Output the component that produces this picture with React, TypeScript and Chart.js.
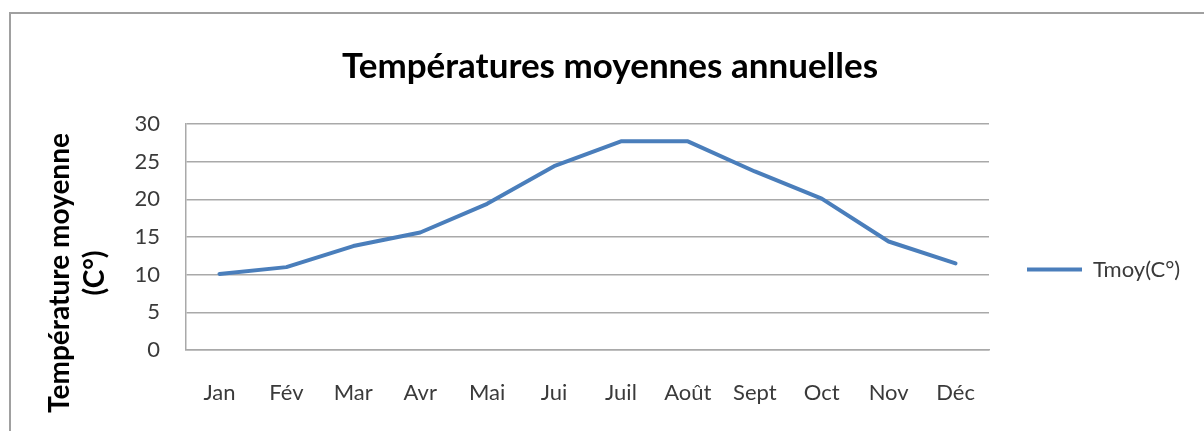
import { useEffect, useRef } from "react";
import { Chart, registerables } from "chart.js";

Chart.register(...registerables);

const months = ["Jan", "Fév", "Mar", "Avr", "Mai", "Jui", "Juil", "Août", "Sept", "Oct", "Nov", "Déc"];
const tmoy = [10.1, 11.0, 13.8, 15.6, 19.4, 24.4, 27.7, 27.7, 23.7, 20.1, 14.4, 11.5];
const yTicks = [0, 5, 10, 15, 20, 25, 30];
const seriesLabel = "Tmoy(C°)";
const chartTitle = "Températures moyennes annuelles";
const yTitleLines = ["Température moyenne", "(C°)"];

const W = 1204;
const H = 431;
const PLOT_LEFT = 186;
const PLOT_RIGHT = 989;
const PLOT_BOTTOM = 350;
const GRID = "#a9a9a9";
const LINE = "#4a7ebb";
const TEXT = "#3a3a3a";

export default function App() {
  const ref = useRef<HTMLCanvasElement>(null);

  useEffect(() => {
    const canvas = ref.current!;
    const mctx = canvas.getContext("2d")!;
    const legendFontSize = 22;
    mctx.font = `${legendFontSize}px Lato`;
    const textW = mctx.measureText(seriesLabel).width;
    const legendPad = 38;
    const legendBox = 55;
    const legendW = legendPad + legendBox + legendFontSize / 2 + textW + 10;
    const padRight = Math.max(0, W - PLOT_RIGHT - legendW);
    const padLeft = padRight + 16;

    const framePlugin = {
      id: "frame",
      beforeDraw(chart: any) {
        const c = chart.ctx;
        c.save();
        c.strokeStyle = "#a0a0a0";
        c.lineWidth = 2;
        c.beginPath();
        c.moveTo(10, H);
        c.lineTo(10, 13);
        c.lineTo(W, 13);
        c.stroke();
        c.restore();
      },
    };

    const legendShiftPlugin = {
      id: "legendShift",
      afterLayout(chart: any) {
        const lg = chart.legend;
        if (lg) {
          lg.top += 24;
          lg.bottom += 24;
        }
      },
    };

    const yTitlePlugin = {
      id: "yTitle",
      afterDraw(chart: any) {
        const c = chart.ctx;
        c.save();
        c.translate(0, 273);
        c.rotate(-Math.PI / 2);
        c.font = "bold 28px Lato";
        c.fillStyle = "#000";
        c.textAlign = "center";
        c.textBaseline = "alphabetic";
        c.fillText(yTitleLines[0], 0, 69);
        c.fillText(yTitleLines[1], 0, 104);
        c.restore();
      },
    };

    const chart = new Chart(canvas, {
      type: "line",
      data: {
        labels: months,
        datasets: [
          {
            label: seriesLabel,
            data: tmoy,
            borderColor: LINE,
            backgroundColor: LINE,
            borderWidth: 4,
            pointRadius: 0,
            pointHoverRadius: 0,
            pointBorderWidth: 4,
            pointBorderColor: LINE,
            tension: 0,
            fill: false,
            borderJoinStyle: "round",
            borderCapStyle: "round",
          },
        ],
      },
      options: {
        responsive: false,
        animation: false,
        layout: { padding: { left: padLeft, right: padRight, top: 0, bottom: 0 } },
        plugins: {
          title: {
            display: true,
            text: chartTitle,
            color: "#000",
            font: { family: "Lato", size: 35, weight: "bold" },
            padding: { top: 46, bottom: 36 },
          },
          legend: {
            display: true,
            position: "right",
            maxWidth: W - PLOT_RIGHT,
            title: { display: true, text: "", padding: 0, font: { size: 50 } },
            labels: {
              usePointStyle: true,
              pointStyle: "line",
              pointStyleWidth: legendBox,
              padding: legendPad,
              color: TEXT,
              font: { family: "Lato", size: legendFontSize },
            },
          },
          tooltip: { enabled: false },
        },
        scales: {
          x: {
            type: "category",
            offset: true,
            afterFit: (s: any) => {
              s.height = H - PLOT_BOTTOM;
            },
            grid: { display: false, drawTicks: false },
            border: { display: true, color: GRID, width: 1.5 },
            ticks: {
              color: TEXT,
              font: { family: "Lato", size: 22 },
              padding: 30,
              autoSkip: false,
              maxRotation: 0,
              minRotation: 0,
            },
          },
          y: {
            min: yTicks[0],
            max: yTicks[yTicks.length - 1],
            afterFit: (s: any) => {
              s.width = PLOT_LEFT - padLeft;
            },
            afterBuildTicks: (s: any) => {
              s.ticks = yTicks.map((v) => ({ value: v }));
            },
            grid: { color: GRID, lineWidth: 1.5, drawTicks: false },
            border: { display: true, color: GRID, width: 1.5 },
            ticks: {
              color: TEXT,
              font: { family: "Lato", size: 22 },
              padding: 26,
            },
          },
        },
      },
      plugins: [framePlugin, legendShiftPlugin, yTitlePlugin],
    } as any);

    return () => chart.destroy();
  }, []);

  return (
    <div style={{ position: "absolute", left: 0, top: 0, width: W, height: H, background: "#fff" }}>
      <canvas ref={ref} width={W} height={H} style={{ display: "block", width: W, height: H }} />
    </div>
  );
}
